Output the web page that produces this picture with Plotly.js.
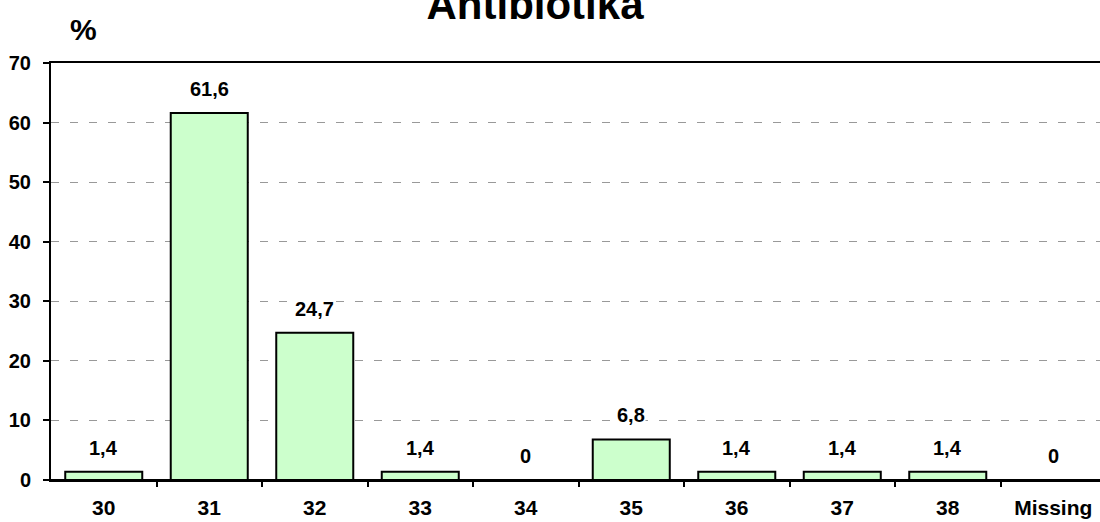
<!DOCTYPE html>
<html>
<head>
<meta charset="utf-8">
<script src="https://cdn.plot.ly/plotly-3.0.1.min.js"></script>
<style>html,body{margin:0;padding:0;background:#fff;}#chart{width:1100px;height:522px;}</style>
</head>
<body>
<div id="chart"></div>
<script>
const categories = ["30", "31", "32", "33", "34", "35", "36", "37", "38", "Missing"];
const values = [1.4, 61.6, 24.7, 1.4, 0, 6.8, 1.4, 1.4, 1.4, 0];
const valueLabels = ["1,4", "61,6", "24,7", "1,4", "0", "6,8", "1,4", "1,4", "1,4", "0"];
const yTicks = [0, 10, 20, 30, 40, 50, 60, 70];

const FONT = "Arial, 'Liberation Sans', sans-serif";

const trace = {
  type: "bar",
  x: categories.map((c, i) => i),
  y: values,
  marker: {color: "#CCFFCC", line: {color: "#000000", width: 2}},
  width: 0.73,
  hoverinfo: "skip"
};

const annotations = categories.map((c, i) => ({
  x: i, y: values[i], xref: "x", yref: "y",
  text: valueLabels[i], showarrow: false,
  yanchor: "bottom", yshift: 12,
  bgcolor: "#ffffff", borderpad: 0,
  font: {family: FONT, size: 20, color: "#000", weight: "bold"}
}));
annotations.push({
  xref: "paper", yref: "paper", x: 0.031, y: 1.080, xanchor: "center", yanchor: "middle",
  text: "%", showarrow: false,
  font: {family: FONT, size: 30, color: "#000", weight: "bold"}
});

const layout = {
  width: 1100, height: 522,
  margin: {l: 51, r: 0, t: 63, b: 42},
  paper_bgcolor: "#fff", plot_bgcolor: "#fff",
  showlegend: false,
  title: {
    text: "Antibiotika",
    x: 535 / 1100, xanchor: "center", xref: "container",
    y: 1 - 4 / 522, yanchor: "middle", yref: "container",
    font: {family: FONT, size: 42, color: "#000", weight: "bold"}
  },
  xaxis: {
    range: [-0.5, 9.443],
    tickvals: categories.map((c, i) => i),
    ticktext: categories,
    showgrid: false,
    showline: true, linecolor: "#000", linewidth: 2,
    mirror: true,
    ticks: "",
    tickfont: {family: FONT, size: 21, color: "#000", weight: "bold"},
    ticklabelstandoff: 8,
    zeroline: false,
    fixedrange: true
  },
  xaxis2: {
    overlaying: "x", matches: "x",
    range: [-0.5, 9.443],
    tickvals: categories.map((c, i) => i + 0.5),
    ticktext: categories.map(() => ""),
    ticks: "outside", ticklen: 6, tickwidth: 2, tickcolor: "#000",
    showgrid: false, showline: false, zeroline: false, anchor: "y",
    fixedrange: true
  },
  yaxis: {
    range: [0, 70],
    tickvals: yTicks,
    ticktext: yTicks.map(String),
    showgrid: true, gridcolor: "#999999", griddash: "8px,11px", gridwidth: 1,
    showline: true, linecolor: "#000", linewidth: 2,
    ticks: "outside", ticklen: 6, tickwidth: 2, tickcolor: "#000",
    tickfont: {family: FONT, size: 20, color: "#000", weight: "bold"},
    ticklabelstandoff: 8,
    zeroline: true, zerolinecolor: "#000", zerolinewidth: 2,
    fixedrange: true
  },
  annotations: annotations
};

const tickTrace = {type: "scatter", x: [0], y: [0], xaxis: "x2", yaxis: "y", mode: "markers", marker: {opacity: 0}, hoverinfo: "skip"};

Plotly.newPlot("chart", [trace, tickTrace], layout, {displayModeBar: false, staticPlot: true});
</script>
</body>
</html>
